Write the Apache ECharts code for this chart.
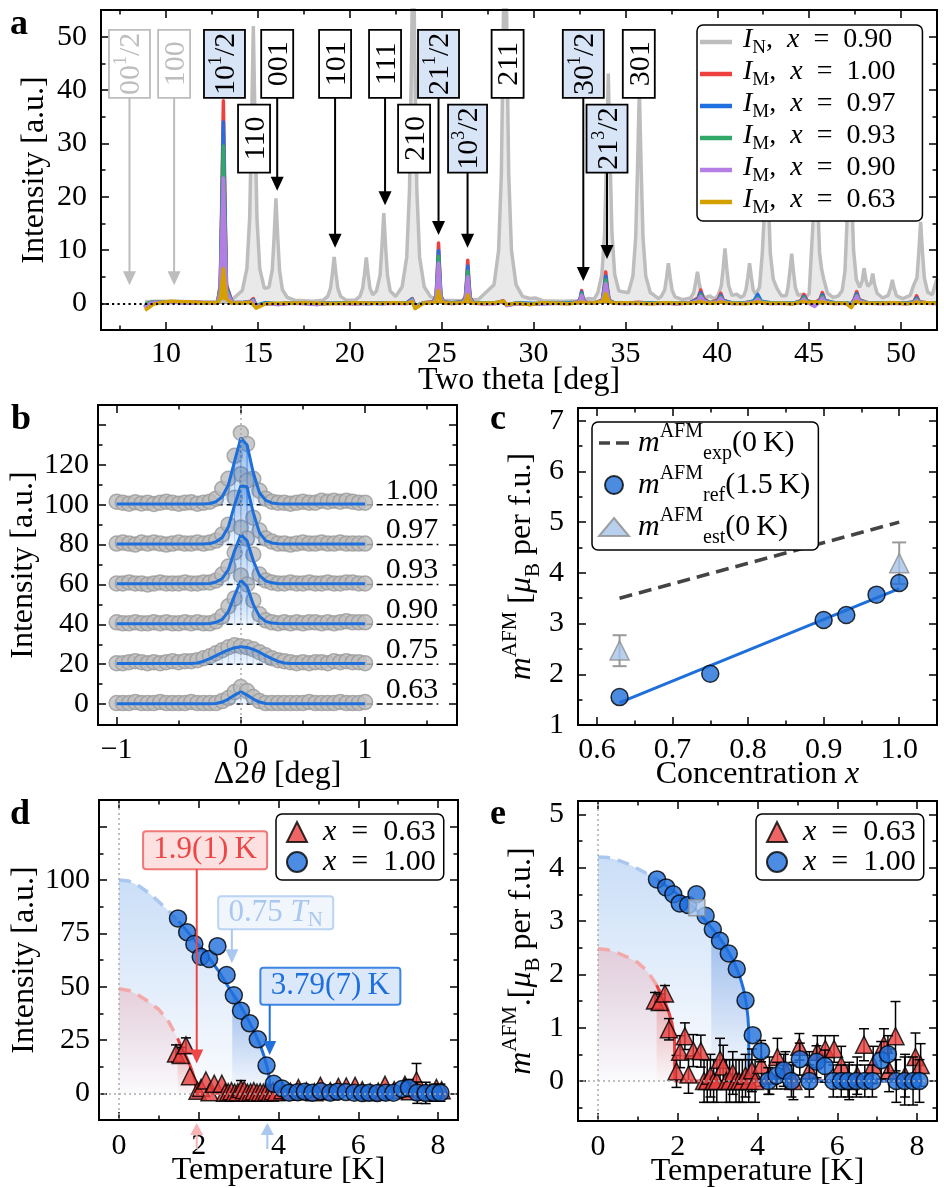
<!DOCTYPE html>
<html>
<head>
<meta charset="utf-8">
<script src="https://cdn.jsdelivr.net/npm/echarts@6/dist/echarts.min.js"></script>
<style>
html,body{margin:0;padding:0;background:#ffffff;}
#chart{width:944px;height:1188px;}
</style>
</head>
<body>
<div id="chart"></div>
<script>
const FF = "'Liberation Serif','DejaVu Serif',serif";

/* ================= panel a : powder patterns ================= */
const aNuclear = [[8.86,0.3],[9.5,0.4],[10.5,0.4],[11.5,0.3],[12.5,0.3],[13.5,0.4],[14.15,2.4],[14.4,6.5],[14.55,15.9],[14.65,32.5],[14.75,52],[14.85,32.5],[14.95,15.9],[15.1,6.5],[15.35,2.8],[15.6,3.0],[15.78,6.3],[15.88,12.3],[15.98,19.7],[16.08,12.3],[16.18,6.1],[16.33,2.6],[16.6,1.1],[17.0,0.6],[18.0,0.4],[18.55,0.6],[18.8,1.3],[18.95,2.8],[19.05,5.5],[19.15,8.7],[19.25,5.5],[19.35,2.8],[19.5,1.3],[19.8,0.6],[20.3,0.6],[20.55,1.3],[20.7,2.8],[20.8,5.4],[20.9,8.6],[21.0,5.4],[21.1,2.8],[21.25,1.6],[21.45,2.3],[21.65,5.3],[21.75,10.6],[21.85,16.9],[21.95,10.6],[22.05,5.3],[22.2,2.3],[22.5,1.3],[22.85,3.1],[23.1,8.7],[23.25,21.3],[23.35,43.7],[23.45,70],[23.55,43.7],[23.65,21.3],[23.8,8.7],[24.05,3.1],[24.4,1.2],[25.0,0.6],[26.0,0.5],[27.0,0.7],[27.85,3.5],[28.1,9.9],[28.25,24.3],[28.35,49.9],[28.45,80],[28.55,49.9],[28.65,24.3],[28.8,9.9],[29.05,3.5],[29.4,1.3],[29.8,0.9],[30.1,1.0],[30.5,0.5],[31.5,0.4],[32.5,0.5],[33.0,0.9],[33.3,0.8],[33.5,2.0],[33.72,5.4],[33.87,13.1],[33.97,26.8],[34.07,43.1],[34.17,26.8],[34.27,13.1],[34.42,5.4],[34.65,2.3],[35.16,2.0],[35.41,5.1],[35.56,12.3],[35.66,25.1],[35.76,40.3],[35.86,25.1],[35.96,12.3],[36.11,5.1],[36.36,2.0],[36.5,1.7],[36.8,0.9],[36.95,1.3],[37.14,2.5],[37.24,4.8],[37.34,7.5],[37.44,4.8],[37.54,2.5],[37.7,1.2],[38.1,0.7],[38.55,1.0],[38.72,2.0],[38.82,3.8],[38.92,5.9],[39.02,3.8],[39.12,2.0],[39.3,1.0],[39.6,1.4],[39.85,0.8],[40.05,1.5],[40.22,3.3],[40.32,6.5],[40.42,10.3],[40.52,6.5],[40.62,3.3],[40.8,1.5],[41.06,1.7],[41.3,1.1],[41.45,1.5],[41.56,2.5],[41.66,4.8],[41.76,7.5],[41.86,4.8],[41.96,2.5],[42.1,1.7],[42.3,3.0],[42.45,9.3],[42.59,18.9],[42.69,30.3],[42.79,18.9],[42.89,9.3],[43.05,4.5],[43.25,2.8],[43.5,1.4],[43.75,1.4],[43.85,3.0],[43.95,5.9],[44.05,9.3],[44.15,5.9],[44.25,3.0],[44.4,1.5],[44.6,1.7],[44.8,1.1],[45.0,1.8],[45.12,9.3],[45.27,18.9],[45.37,30.3],[45.47,18.9],[45.57,9.5],[45.68,6.4],[45.8,4.5],[46.0,1.9],[46.3,1.1],[46.6,1.4],[46.8,2.4],[46.95,6.0],[47.12,20.1],[47.22,32.3],[47.32,20.1],[47.42,9.9],[47.57,4.5],[47.75,3.0],[47.89,4.2],[47.99,6.6],[48.09,4.4],[48.2,3.2],[48.36,3.8],[48.46,5.6],[48.56,3.6],[48.7,1.9],[49.0,1.0],[49.3,1.5],[49.43,2.8],[49.53,4.4],[49.63,2.8],[49.76,1.4],[50.1,0.9],[50.5,1.5],[50.7,3.5],[50.87,4.8],[50.97,9.6],[51.07,15.3],[51.17,9.6],[51.27,4.8],[51.45,2.1],[51.7,1.6],[51.96,4.6]];

const aMX = [8.86,8.95,9.3,9.8,10.3,10.8,11.3,11.8,12.3,12.8,
  12.95,13.04,13.12,13.2,13.29,13.6,14.2,14.6,14.75,14.9,
  15.4,16.1,16.8,17.5,18.2,18.9,19.6,20.3,21.0,21.7,
  22.4,23.1,23.4,23.55,24.0,24.55,24.7,24.77,24.83,24.89,
  24.96,25.1,25.6,26.15,26.29,26.36,26.42,26.48,26.55,26.7,
  27.2,27.9,28.35,28.55,29.1,29.8,30.5,31.2,31.9,32.4,
  32.53,32.62,32.71,32.85,33.3,33.74,33.84,33.93,34.02,34.12,
  34.4,35.0,35.7,36.4,37.1,37.8,38.5,38.95,39.1,39.25,
  39.6,40.05,40.19,40.33,40.8,41.5,42.0,42.2,42.4,42.9,
  43.5,44.1,44.55,44.72,44.89,45.3,45.58,45.72,45.86,46.4,
  47.0,47.3,47.45,47.59,47.73,48.2,48.9,49.6,50.3,50.7,
  50.85,51.0,51.4,51.96];
const aMRed = [-0.8,-0.2,0.3,0.1,0.3,0.2,0.1,0.2,0.0,0.1,
  3.5,20.5,38.0,20.5,3.5,0.2,0.1,0.4,0.9,-0.5,
  0.0,-0.2,0.1,0.0,-0.1,0.1,0.0,-0.1,0.1,0.0,
  0.1,0.0,0.9,-0.6,0.1,0.3,1.5,6.5,11.3,6.5,
  1.5,0.3,0.0,0.4,1.2,4.5,8.1,4.5,1.2,0.2,
  -0.1,0.0,0.5,-0.4,0.0,-0.2,0.0,0.1,0.0,0.2,
  0.8,2.4,0.8,0.2,0.1,0.6,3.0,5.9,3.0,0.6,
  0.1,0.0,0.2,0.0,0.1,-0.1,0.1,1.0,2.5,0.9,
  0.1,0.7,1.9,0.6,0.0,0.1,0.4,1.3,0.3,0.0,
  0.1,-0.1,0.5,1.7,0.5,0.1,0.7,2.0,0.6,0.0,
  0.1,-0.2,0.8,2.2,0.7,0.1,0.0,0.1,0.0,0.3,
  1.4,0.3,0.1,0.0];
const aMBlue = [-0.7,-0.1,0.2,0.2,0.3,0.1,0.2,0.1,0.1,0.0,
  3.1,18.5,34.0,18.5,3.1,0.1,0.2,0.3,0.7,-0.4,
  0.1,-0.1,0.0,0.1,-0.2,0.0,0.1,0.0,-0.1,0.1,
  0.0,0.1,0.8,-0.5,0.0,0.2,1.3,5.7,9.9,5.7,
  1.3,0.2,0.1,0.3,1.0,3.9,7.0,3.9,1.0,0.1,
  0.0,0.1,0.4,-0.3,0.1,0.0,-0.1,0.0,0.1,0.2,
  0.7,2.1,0.7,0.1,0.0,0.5,2.6,5.1,2.6,0.5,
  0.0,0.1,0.1,0.1,0.0,0.0,0.1,0.8,2.0,0.7,
  0.0,0.5,1.5,0.5,0.1,0.0,0.5,1.7,0.4,0.1,
  0.0,0.0,0.4,1.3,0.4,0.0,0.5,1.6,0.5,0.1,
  0.0,-0.1,0.6,1.8,0.6,0.0,0.1,0.0,0.1,0.2,
  1.0,0.2,0.0,0.1];
const aMGreen = [-0.6,0.0,0.3,0.1,0.2,0.2,0.1,0.1,0.0,0.1,
  2.7,16.0,29.5,16.0,2.7,0.1,0.1,0.2,0.6,-0.4,
  0.0,-0.1,0.1,0.0,-0.1,0.1,0.0,0.0,0.1,-0.1,
  0.1,0.0,0.7,-0.5,0.1,0.2,1.2,5.0,8.8,5.0,
  1.2,0.2,0.0,0.3,0.9,3.3,6.0,3.3,0.9,0.1,
  0.1,0.0,0.3,-0.3,0.0,-0.1,0.0,0.1,0.0,0.1,
  0.6,1.8,0.6,0.1,0.1,0.4,2.3,4.4,2.3,0.4,
  0.1,0.0,0.1,0.0,0.1,0.0,0.0,0.6,1.6,0.6,
  0.1,0.4,1.2,0.4,0.0,0.1,0.3,1.0,0.3,0.0,
  0.1,0.0,0.3,1.1,0.3,0.1,0.4,1.3,0.4,0.0,
  0.1,-0.1,0.5,1.5,0.5,0.1,0.0,0.1,0.0,0.2,
  0.8,0.2,0.1,0.0];
const aMPurple = [-0.9,-0.3,0.2,0.1,0.2,0.1,0.0,0.1,0.0,0.0,
  2.2,12.8,23.5,12.8,2.2,0.0,0.1,0.2,0.5,-0.5,
  -0.1,-0.2,0.0,-0.1,-0.2,0.0,-0.1,-0.1,0.0,-0.1,
  0.0,-0.1,0.6,-0.6,0.0,0.1,1.0,4.2,7.5,4.2,
  1.0,0.1,-0.1,0.2,0.7,2.8,5.0,2.8,0.7,0.0,
  -0.1,-0.1,0.3,-0.4,-0.1,-0.2,-0.1,0.0,-0.1,0.1,
  0.5,1.5,0.5,0.0,0.0,0.3,1.9,3.7,1.9,0.3,
  0.0,-0.1,0.0,-0.1,0.0,-0.1,0.0,0.5,1.3,0.5,
  0.0,0.3,1.0,0.3,-0.1,0.0,0.2,0.8,0.2,-0.1,
  0.0,-0.1,0.2,0.8,0.2,-0.6,0.3,1.0,0.3,-0.1,
  0.0,-0.3,0.4,1.3,0.4,0.0,-0.1,0.0,-0.1,0.1,
  0.6,0.1,0.0,-0.1];
const aMGold = [-1.3,-1.0,-0.2,0.2,0.4,0.3,0.3,0.1,0.1,0.1,
  0.8,3.6,6.5,3.6,0.8,0.0,0.1,0.2,-0.3,-0.9,
  -0.1,0.0,0.0,0.1,0.0,-0.1,0.0,0.1,0.0,0.0,
  0.1,0.0,0.3,-1.0,0.0,0.1,0.4,1.4,2.4,1.4,
  0.4,0.1,0.0,0.1,0.3,0.9,1.6,0.9,0.3,0.0,
  0.0,0.1,0.4,-0.2,0.0,-0.2,0.1,0.0,-0.1,0.1,
  0.2,0.5,0.2,0.0,0.1,0.3,1.0,1.8,1.0,0.3,
  0.0,0.1,0.0,-0.1,0.1,0.0,0.0,0.2,0.4,0.1,
  0.0,0.1,0.3,0.1,0.0,-0.1,0.1,0.3,0.1,0.0,
  0.0,-0.1,0.2,0.4,0.1,0.3,0.1,0.3,0.1,0.0,
  0.0,-0.8,0.1,0.4,0.1,0.0,0.0,0.1,-0.1,0.0,
  0.3,0.0,0.1,0.0];
const aSeriesNames = ['IN090','IM100','IM097','IM093','IM090','IM063'];
const aLegendSub = ['N','M','M','M','M','M'];
const aLegendConc = ['0.90','1.00','0.97','0.93','0.90','0.63'];
const aColors = ['#bdbdbd','#ef4040','#2070e0','#30a868','#b57ee5','#d4a000'];
const aXTicks = [10,15,20,25,30,35,40,45,50];
const aXMinor = [7.5,12.5,17.5,22.5,27.5,32.5,37.5,42.5,47.5];
const aYTicks = [0,10,20,30,40,50];
const aYMinor = [5,15,25,35,45];
const aPeakLabels = [
  {t:'{n|00}{s|1}{n|/2}', x:8.01,  row:0, w:41, kind:'gray', tip:3.4},
  {t:'{n|100}',           x:10.44, row:0, w:32, kind:'gray', tip:3.4},
  {t:'{n|10}{s|1}{n|/2}', x:13.18, row:0, w:41, kind:'blue'},
  {t:'{n|110}',           x:14.79, row:1, w:32, kind:'white'},
  {t:'{n|001}',           x:16.05, row:0, w:32, kind:'white', tip:21.1},
  {t:'{n|101}',           x:19.2,  row:0, w:32, kind:'white', tip:10.4},
  {t:'{n|111}',           x:21.92, row:0, w:32, kind:'white', tip:18.4},
  {t:'{n|210}',           x:23.5,  row:1, w:32, kind:'white'},
  {t:'{n|21}{s|1}{n|/2}', x:24.83, row:0, w:41, kind:'blue', tip:12.8},
  {t:'{n|10}{s|3}{n|/2}', x:26.41, row:1, w:39, kind:'blue', tip:10.4},
  {t:'{n|211}',           x:28.59, row:0, w:32, kind:'white'},
  {t:'{n|30}{s|1}{n|/2}', x:32.71, row:0, w:41, kind:'blue', tip:4.2},
  {t:'{n|21}{s|3}{n|/2}', x:34.0,  row:1, w:41, kind:'blue', tip:8.3},
  {t:'{n|301}',           x:35.73, row:0, w:32, kind:'white'}
];
const aRowY = [44.9, 30.9];

/* ================= panel b : peak profiles ================= */
const bX = [-1,-0.95,-0.9,-0.85,-0.8,-0.75,-0.7,-0.65,-0.6,-0.55,-0.5,-0.45,-0.4,-0.35,-0.3,-0.25,-0.2,-0.15,-0.1,-0.05,0,0.05,0.1,0.15,0.2,0.25,0.3,0.35,0.4,0.45,0.5,0.55,0.6,0.65,0.7,0.75,0.8,0.85,0.9,0.95,1];
const bOffsets = [100,80,60,40,20,0];
const bLabels = ['1.00','0.97','0.93','0.90','0.75','0.63'];
const bPts = [
 [1.5,1.0,0.5,1.2,0.6,1.0,0.4,1.0,1.5,1.0, 0.5,1.0,1.2,0.5,1.0,1.5,3.0,8.0,13.0,24.5, 36.0,30.5,13.0,7.0,3.0,1.5,1.0,1.0,0.5,1.0, 1.5,1.0,1.0,2.0,1.5,2.0,1.5,2.0,1.5,1.0,1.0],
 [0.5,1.0,0.5,0.0,1.0,0.5,1.0,0.5,0.0,0.5, 1.0,0.5,0.5,1.0,0.5,1.0,2.0,5.0,10.0,23.5, 35.3,32.0,13.5,7.0,3.0,1.5,0.5,0.5,0.0,0.5, 1.0,0.5,0.5,1.0,0.5,0.5,1.0,0.5,0.5,0.5,0.5],
 [0.5,0.5,1.0,0.5,0.5,0.0,0.5,1.0,0.5,0.5, 0.5,1.0,0.5,0.5,1.0,1.0,2.0,5.0,9.0,16.0, 28.5,23.0,15.0,5.0,2.0,1.0,0.5,0.5,1.0,0.5, 0.5,1.0,0.5,0.5,1.0,0.5,0.5,1.0,1.0,0.5,0.5],
 [1.0,0.5,0.5,1.0,0.5,0.5,1.0,0.5,1.0,0.5, 0.5,1.0,0.5,1.0,0.5,0.5,1.5,4.0,9.0,13.0, 24.5,20.0,12.0,5.0,2.0,1.0,0.5,1.0,0.5,1.0, 0.5,1.0,1.0,0.5,1.0,0.5,1.0,1.5,1.0,1.0,1.0],
 [0.5,0.5,1.0,1.5,1.0,0.5,1.0,0.5,1.0,1.5, 1.0,1.5,1.5,2.0,3.0,4.0,5.5,7.0,8.5,9.5, 9.0,8.5,7.5,6.0,4.5,3.0,2.0,1.5,1.0,0.5, 1.0,0.5,1.0,1.0,0.5,1.5,1.0,1.5,1.0,1.0,0.5],
 [0.5,0.5,0.5,1.0,0.5,0.5,0.5,1.0,0.5,0.5, 0.5,0.5,1.0,0.5,0.5,0.5,0.5,1.5,3.0,6.0, 8.5,6.5,3.5,1.5,0.5,0.5,0.5,0.5,0.5,0.5, 0.5,1.0,0.5,0.5,0.5,0.5,1.0,0.5,0.5,0.5,1.0]
];
const bFit = [
 [0.3,0.3,0.3,0.3,0.3,0.3,0.3,0.3,0.3,0.3, 0.3,0.3,0.3,0.3,0.3,0.6,1.5,4,10,22, 33.5,30,16,6,2.2,0.9,0.5,0.3,0.3,0.3, 0.3,0.3,0.3,0.3,0.3,0.3,0.3,0.3,0.3,0.3,0.3],
 [0.3,0.3,0.3,0.3,0.3,0.3,0.3,0.3,0.3,0.3, 0.3,0.3,0.3,0.3,0.3,0.5,1.4,3.5,9,20, 29.5,29,16,6,2,0.8,0.4,0.3,0.3,0.3, 0.3,0.3,0.3,0.3,0.3,0.3,0.3,0.3,0.3,0.3,0.3],
 [0.3,0.3,0.3,0.3,0.3,0.3,0.3,0.3,0.3,0.3, 0.3,0.3,0.3,0.3,0.3,0.5,1.2,3,7.5,17, 25,22,12,4.5,1.8,0.8,0.4,0.3,0.3,0.3, 0.3,0.3,0.3,0.3,0.3,0.3,0.3,0.3,0.3,0.3,0.3],
 [0.3,0.3,0.3,0.3,0.3,0.3,0.3,0.3,0.3,0.3, 0.3,0.3,0.3,0.3,0.3,0.4,1,2.5,6.5,14.5, 22,19,10,4,1.5,0.6,0.4,0.3,0.3,0.3, 0.3,0.3,0.3,0.3,0.3,0.3,0.3,0.3,0.3,0.3,0.3],
 [0.3,0.3,0.3,0.3,0.3,0.3,0.3,0.3,0.3,0.3, 0.3,0.3,0.3,0.6,1.5,2.8,4.3,5.8,7.2,8.3, 8.7,8.4,7.4,6,4.3,2.8,1.4,0.6,0.3,0.3, 0.3,0.3,0.3,0.3,0.3,0.3,0.3,0.3,0.3,0.3,0.3],
 [0.2,0.2,0.2,0.2,0.2,0.2,0.2,0.2,0.2,0.2, 0.2,0.2,0.2,0.2,0.2,0.2,0.3,1,2.5,4.5, 6.2,4.5,2.5,1,0.3,0.2,0.2,0.2,0.2,0.2, 0.2,0.2,0.2,0.2,0.2,0.2,0.2,0.2,0.2,0.2,0.2]
];
const bXTicks = [-1,0,1];
const bXMinor = [-0.5,0.5,1.5];
const bYTicks = [0,20,40,60,80,100,120,140];
const bYLabels = [0,20,40,60,80,100,120];
const bYMinor = [10,30,50,70,90,110,130];
const bLabelX = 1.59;

/* ================= panel c : moment vs concentration ================= */
const cX = [0.63,0.75,0.90,0.93,0.97,1.00];
const cRef = [1.55,2.01,3.07,3.17,3.57,3.80];
const cEstX = [0.63,1.00];
const cEst = [2.47,4.19];
const cEstLo = [2.16,3.78];
const cEstHi = [2.77,4.60];
const cExpX = [0.63,1.00];
const cExp = [3.5,5.0];
const cFitX = [0.63,1.00];
const cFit = [1.44,3.69];
const cXTicks = [0.6,0.7,0.8,0.9,1.0];
const cXMinor = [0.65,0.75,0.85,0.95];
const cYTicks = [1,2,3,4,5,6,7];
const cYMinor = [1.5,2.5,3.5,4.5,5.5,6.5];

/* ================= panels d, e : temperature dependence ================= */
const tB = [1.48,1.71,1.89,2.05,2.26,2.47,2.7,2.88,3.06,3.28,3.48,3.7,3.88,4.09,4.27,4.48,4.66,4.85,5.06,5.3,5.48,5.69,5.9,6.1,6.27,6.48,6.69,6.88,7.1,7.27,7.48,7.69,7.9,8.06];
const dB = [82,75.5,70,64,63,69,55.5,46,38.7,32.8,25.3,13,4.5,2.3,0.3,0.5,0.8,0.3,1.0,0.3,0.8,0.6,0.3,0.2,0.3,0.2,0.3,0.3,2.0,2.5,0.3,0.2,0.3,0.3];
const dBErr = [1.5,1.5,1.5,1.5,1.5,1.5,1.5,1.5,1.5,1.5,1.5,1.5,2,2,2.5,2.5,3,3,3,3,3,3,3,3,3,3,3,3,3,4,5,5,4,4];
const eB = [3.78,3.63,3.5,3.33,3.3,3.5,3.1,2.84,2.63,2.39,2.1,1.51,0.86,0.56,0,0.1,0.2,0,0.41,0,0.36,0.28,0,0,0,0,0,0,0.39,0.5,0,0,0,0];
const eBErr = [0.05,0.05,0.05,0.05,0.05,0.05,0.05,0.05,0.05,0.06,0.08,0.1,0.15,0.2,0.25,0.25,0.3,0.3,0.3,0.3,0.3,0.3,0.3,0.3,0.3,0.3,0.3,0.3,0.35,0.35,0.4,0.45,0.45,0.4];
const tR = [1.43,1.55,1.68,1.78,1.97,2.06,2.18,2.27,2.39,2.58,
  2.66,2.74,2.82,2.9,2.98,3.06,3.14,3.22,3.3,3.38,
  3.46,3.54,3.62,3.7,3.78,3.86,3.94,4.1,4.3,4.5,
  4.7,4.9,5.05,5.3,5.5,5.7,5.92,6.1,6.3,6.5,
  6.67,6.9,7.17,7.3,7.46,7.7,7.96,8.09];
const dR = [18.7,18.0,22.5,8.0,1.2,2.5,6.0,0.5,4.5,4.5,
  0.3,0.5,1.0,0.3,0.5,2.0,1.5,0.3,0.5,1.0,
  0.3,0.5,0.3,0.8,0.3,1.0,0.5,1.5,0.8,2.5,
  1.0,0.5,3.5,1.0,3.0,3.2,3.5,1.5,0.5,0.8,
  4.0,1.5,4.0,1.0,6.0,0.8,2.5,1.5];
const dRErr = [4,3.5,3.5,3,3,3,3,3,3,3, 3,3,3,3,3,4,3,3,3,3, 3,3,3,3,3,3,3,3,3,3, 3,3,3,3,3,3,3,3,3,3, 3,3,3,3,8,3,3,3];
const eR = [1.51,1.48,1.64,0.97,0.18,0.55,0.84,0.12,0.57,0.56,
  0,0,0.1,0,0,0.4,0.27,0,0,0.15,
  0,0,0,0.1,0,0.2,0,0.3,0.1,0.45,
  0.2,0,0.64,0.2,0.55,0.6,0.6,0.3,0,0.1,
  0.68,0.3,0.68,0.2,0.84,0.1,0.45,0.3];
const eRErr = [0.15,0.15,0.15,0.2,0.3,0.3,0.25,0.35,0.3,0.3, 0.4,0.4,0.4,0.4,0.4,0.4,0.4,0.4,0.4,0.4, 0.4,0.4,0.4,0.4,0.4,0.4,0.4,0.4,0.35,0.35, 0.35,0.35,0.25,0.35,0.3,0.25,0.25,0.35,0.35,0.35, 0.3,0.35,0.3,0.4,0.65,0.4,0.45,0.4];
const eRefT = [2.48];
const eRef = [3.25];
const fitTB = [0,0.25,0.5,0.75,1.0,1.25,1.5,1.75,2.0,2.25,2.5,2.75,2.84,3.0,3.2,3.4,3.55,3.65,3.72,3.76,3.78,3.785];
const dFitB = [100,99.5,97.2,93.9,89.8,85.3,80.6,75.1,69.4,63.6,57.3,49.7,47.0,42.6,36.0,28.7,22.2,16.8,11.9,8.2,5.1,0];
const eFitB = [4.2,4.19,4.14,4.07,3.98,3.88,3.77,3.64,3.5,3.35,3.18,2.96,2.88,2.74,2.52,2.25,1.98,1.72,1.45,1.2,0.95,0];
const fitTR = [0,0.25,0.5,0.75,1.0,1.25,1.47,1.6,1.7,1.78,1.85,1.9,1.92,1.925];
const dFitR = [49,48.2,45.9,42.9,39.3,33.5,25.8,20.4,16.7,13.1,9.6,6.5,5.1,0];
const eFitR = [2.48,2.46,2.4,2.32,2.22,2.05,1.8,1.6,1.45,1.28,1.1,0.9,0.8,0];
const fitEndT = 8.1;
const cutB = 2.84, cutR = 1.47, dashEndB = 1.5, dashEndR = 1.47;
const tXTicks = [0,2,4,6,8];
const tXMinor = [1,3,5,7];
const dYTicks = [0,25,50,75,100,125];
const dYLabels = [0,25,50,75,100];
const dYMinor = [12.5,37.5,62.5,87.5,112.5];
const eYTicks = [0,1,2,3,4,5];
const eYMinor = [-0.5,0.5,1.5,2.5,3.5,4.5];
const dNotes = [
  {t:'{n|1.9(1)\u2009K}', x:2.16, y:114, w:124, h:38, tx:'#ee4646', bd:'#f07878', bg:'#fde0e0', ax:1.95, tip:14},
  {t:'{n|0.75 }{i|T}{sub|N}', x:3.93, y:84.7, w:115, h:33, tx:'#a9c7ef', bd:'#bcd4f3', bg:'#f1f6fd', ax:2.83, tip:61},
  {t:'{n|3.79(7)\u2009K}', x:5.3, y:50.2, w:140, h:37, tx:'#1f6fdc', bd:'#3f84e2', bg:'#dbe8f9', ax:3.78, tip:18}
];
const dAxisMarks = [{x:1.95, c:'#f6b4b4'}, {x:3.72, c:'#a9c7ef'}];

/* ================= build ================= */
const xAxes = [], yAxes = [];
const TICK = {color:'#000', width:1.5};
const NAMESTYLE = {fontFamily:FF, fontSize:32, color:'#000'};
function buildAxes(gi, dim, min, max, major, minor, labels, fmt, margin, nameCfg) {
  const list = dim === 'x' ? xAxes : yAxes;
  const pos = dim === 'x' ? ['bottom','top'] : ['left','right'];
  const idx = list.length;
  const mk = (p, ticks, len, withLabel) => {
    const ax = {type:'value', gridIndex:gi, position:p, min:min, max:max, silent:true,
      splitLine:{show:false}, axisLine:{show:false, onZero:false},
      axisTick:{show:true, inside:true, length:len, lineStyle:TICK, customValues:ticks},
      axisLabel:{show:false}, nameMoveOverlap:false};
    if (withLabel) {
      ax.axisLabel = {show:true, customValues:labels, margin:margin, fontFamily:FF, fontSize:30, color:'#000'};
      if (fmt) ax.axisLabel.formatter = fmt;
      Object.assign(ax, nameCfg);
    }
    return ax;
  };
  list.push(mk(pos[0], major, 8, true));
  list.push(mk(pos[0], minor, 4.5, false));
  list.push(mk(pos[1], major, 8, false));
  list.push(mk(pos[1], minor, 4.5, false));
  return idx;
}
const richName = {
  n:{fontFamily:FF, fontSize:32, color:'#000', lineHeight:44, verticalAlign:'middle'},
  i:{fontFamily:FF, fontSize:32, color:'#000', fontStyle:'italic', lineHeight:44, verticalAlign:'middle'},
  sup:{fontFamily:FF, fontSize:21, color:'#000', lineHeight:21, verticalAlign:'top'},
  sub:{fontFamily:FF, fontSize:21, color:'#000', lineHeight:21, verticalAlign:'bottom'}
};
const minusFmt = v => v < 0 ? '\u2212' + (-v) : String(v);

const aXi = buildAxes(0,'x',6.46,51.96,aXTicks,aXMinor,aXTicks,null,9,{name:'Two theta [deg]',nameLocation:'middle',nameGap:35,nameTextStyle:NAMESTYLE});
const aYi = buildAxes(0,'y',-5,55,aYTicks,aYMinor,aYTicks,null,14,{name:'Intensity [a.u.]',nameLocation:'middle',nameGap:50,nameTextStyle:NAMESTYLE});
const bXi = buildAxes(1,'x',-1.15,1.74,bXTicks,bXMinor,bXTicks,minusFmt,10,{name:'{n|\u03942}{i|\u03b8}{n| [deg]}',nameLocation:'middle',nameGap:28,nameTextStyle:Object.assign({rich:richName},NAMESTYLE)});
const bYi = buildAxes(1,'y',-10.5,150,bYTicks,bYMinor,bYLabels,null,9,{name:'Intensity [a.u.]',nameLocation:'middle',nameGap:58,nameTextStyle:NAMESTYLE});
const cXi = buildAxes(2,'x',0.575,1.05,cXTicks,cXMinor,cXTicks,v=>v.toFixed(1),10,{name:'{n|Concentration }{i|x}',nameLocation:'middle',nameGap:28,nameTextStyle:Object.assign({rich:richName},NAMESTYLE)});
const cYi = buildAxes(2,'y',1,7.25,cYTicks,cYMinor,cYTicks,null,14,{name:'{i|m}{sup|AFM}{n| [}{i|\u03bc}{sub|B}{n| per f.u.]}',nameLocation:'middle',nameGap:34,nameTextStyle:Object.assign({rich:richName},NAMESTYLE)});
const dXi = buildAxes(3,'x',-0.5,8.5,tXTicks,tXMinor,tXTicks,null,11,{name:'Temperature [K]',nameLocation:'middle',nameGap:35,nameTextStyle:NAMESTYLE});
const dYi = buildAxes(3,'y',-12.5,137.5,dYTicks,dYMinor,dYLabels,null,9,{name:'Intensity [a.u.]',nameLocation:'middle',nameGap:58,nameTextStyle:NAMESTYLE});
const eXi = buildAxes(4,'x',-0.5,8.5,tXTicks,tXMinor,tXTicks,null,11,{name:'Temperature [K]',nameLocation:'middle',nameGap:35,nameTextStyle:NAMESTYLE});
const eYi = buildAxes(4,'y',-0.75,5.25,eYTicks,eYMinor,eYTicks,null,14,{name:'{i|m}{sup|AFM}{n|.[}{i|\u03bc}{sub|B}{n| per f.u.]}',nameLocation:'middle',nameGap:34,nameTextStyle:Object.assign({rich:richName},NAMESTYLE)});

const zip = (xs, ys, off) => xs.map((x,i) => [x, ys[i] + (off || 0)]);
const grad = (c0, c1) => new echarts.graphic.LinearGradient(0,0,0,1,[{offset:0,color:c0},{offset:1,color:c1}]);
const series = [];
const DOTTED = {color:'#aaaaaa', width:1.5, type:[2,3]};
// error bars; bars shorter than the marker radius stay hidden beneath it
function errSeries(xi, yi, pts, color, lw, cap, z, hideR) {
  return {type:'custom', xAxisIndex:xi, yAxisIndex:yi, data:pts, z:z, silent:true, encode:{x:0, y:[1,2]},
    renderItem:(params, api) => {
      const x = api.value(0), lo = api.value(1), hi = api.value(2);
      const a = api.coord([x, lo]), b = api.coord([x, hi]);
      if (Math.abs(a[1] - b[1]) / 2 < (hideR || 0)) return {type:'group', children:[]};
      const st = {stroke:color, lineWidth:lw};
      return {type:'group', children:[
        {type:'line', shape:{x1:a[0],y1:a[1],x2:b[0],y2:b[1]}, style:st},
        {type:'line', shape:{x1:a[0]-cap,y1:a[1],x2:a[0]+cap,y2:a[1]}, style:st},
        {type:'line', shape:{x1:b[0]-cap,y1:b[1],x2:b[0]+cap,y2:b[1]}, style:st}]};
    }};
}
function bandSeries(xi, yi, xs, ys, off) {
  const pts = [];
  for (let i = 0; i < xs.length - 1; i++) {
    if (ys[i] > 0.35 || ys[i+1] > 0.35) pts.push([xs[i], ys[i] + off, xs[i+1], ys[i+1] + off, off]);
  }
  return {type:'custom', xAxisIndex:xi, yAxisIndex:yi, data:pts, z:3, silent:true, encode:{x:[0,2], y:[1,3]},
    renderItem:(params, api) => {
      const a = api.coord([api.value(0), api.value(1)]);
      const b = api.coord([api.value(2), api.value(3)]);
      const b0 = api.coord([api.value(2), api.value(4)]);
      const a0 = api.coord([api.value(0), api.value(4)]);
      const g = new echarts.graphic.LinearGradient(0, a0[1]-70, 0, a0[1],
        [{offset:0,color:'rgba(30,111,217,0.55)'},{offset:1,color:'rgba(30,111,217,0.08)'}], true);
      return {type:'polygon', shape:{points:[a,b,b0,a0]}, style:{fill:g, stroke:g, lineWidth:0.6}};
    }};
}

/* ---- a ---- */
series.push({type:'line', name:aSeriesNames[0], xAxisIndex:aXi, yAxisIndex:aYi, data:aNuclear, symbol:'none', silent:true, z:2,
  lineStyle:{color:aColors[0], width:3.5}, itemStyle:{color:aColors[0]}, areaStyle:{color:'#e9e9e9', opacity:1}});
[aMRed, aMBlue, aMGreen, aMPurple, aMGold].forEach((arr, k) => {
  series.push({type:'line', name:aSeriesNames[k+1], xAxisIndex:aXi, yAxisIndex:aYi, data:zip(aMX, arr), symbol:'none', silent:true, z:2,
    lineStyle:{color:aColors[k+1], width:3.5, join:'round'}, itemStyle:{color:aColors[k+1]}, areaStyle:{color:aColors[k+1], opacity:1}});
});
const siA = series.length - 1;
series[siA].markLine = {silent:true, symbol:'none', label:{show:false}, data:[{yAxis:0}], lineStyle:{color:'#000', width:2.2, type:[2.2,3.3]}};

/* ---- b ---- */
const siB = series.length;
bOffsets.forEach((off, k) => {
  const s = {type:'line', xAxisIndex:bXi, yAxisIndex:bYi, silent:true, symbol:'none', z:1,
    data:[[bX[0], off],[bLabelX, off]], lineStyle:{color:'#000', width:1.6, type:[6,4]}};
  if (k === 0) s.markLine = {silent:true, symbol:'none', label:{show:false}, data:[{xAxis:0}], lineStyle:DOTTED};
  series.push(s);
});
bOffsets.forEach((off, k) => {
  series.push({type:'scatter', xAxisIndex:bXi, yAxisIndex:bYi, silent:true, z:2, data:zip(bX, bPts[k], off),
    symbolSize:15, itemStyle:{color:'#bdbdbd', borderColor:'#9a9a9a', borderWidth:1.5}});
});
bOffsets.forEach((off, k) => {
  series.push(bandSeries(bXi, bYi, bX, bFit[k], off));
  series.push({type:'line', xAxisIndex:bXi, yAxisIndex:bYi, silent:true, z:4, symbol:'none',
    data:zip(bX, bFit[k], off), lineStyle:{color:'#1e6fd9', width:3}});
});

/* ---- c ---- */
series.push({type:'line', name:'mexp', xAxisIndex:cXi, yAxisIndex:cYi, silent:true, z:2, symbol:'none',
  data:zip(cExpX, cExp), lineStyle:{color:'#444444', width:3.5, type:[13,7]}, itemStyle:{color:'#444444'}});
series.push({type:'line', xAxisIndex:cXi, yAxisIndex:cYi, silent:true, z:2, symbol:'none',
  data:zip(cFitX, cFit), lineStyle:{color:'#1e6fd9', width:3}});
series.push(errSeries(cXi, cYi, cEstX.map((x,i)=>[x, cEstLo[i], cEstHi[i]]), '#999999', 2, 7, 3, 0));
series.push({type:'scatter', name:'mest', xAxisIndex:cXi, yAxisIndex:cYi, silent:true, z:3, symbol:'triangle', symbolSize:19,
  data:zip(cEstX, cEst), itemStyle:{color:'#a7c3ea', borderColor:'#8d8d8d', borderWidth:1.5}});
series.push({type:'scatter', name:'mref', xAxisIndex:cXi, yAxisIndex:cYi, silent:true, z:4, symbolSize:17,
  data:zip(cX, cRef), itemStyle:{color:'#1e6fd9', borderColor:'#000', borderWidth:1.5}});

/* ---- d, e ---- */
function areaSeries(xi, yi, pts, c0, c1, extra) {
  return Object.assign({type:'line', xAxisIndex:xi, yAxisIndex:yi, data:pts, symbol:'none', silent:true, z:1,
    lineStyle:{width:0, opacity:0}, areaStyle:{color:grad(c0, c1), opacity:1}}, extra || {});
}
function tempPanel(xi, yi, fitB, fitR, vB, errB, vR, errR, withRef) {
  const pB = zip(fitTB, fitB), pR = zip(fitTR, fitR);
  const first = series.length;
  series.push(areaSeries(xi, yi, pB.filter(p => p[0] <= cutB), 'rgba(150,190,240,0.5)', 'rgba(150,190,240,0.04)',
    {markLine:{silent:true, symbol:'none', label:{show:false}, data:[{xAxis:0},{yAxis:0}], lineStyle:DOTTED}}));
  series.push(areaSeries(xi, yi, pB.filter(p => p[0] >= cutB), 'rgba(70,130,220,0.55)', 'rgba(70,130,220,0.04)'));
  series.push(areaSeries(xi, yi, pR.filter(p => p[0] <= cutR), 'rgba(235,150,160,0.35)', 'rgba(235,150,160,0.02)'));
  series.push(areaSeries(xi, yi, pR.filter(p => p[0] >= cutR), 'rgba(235,90,90,0.5)', 'rgba(235,90,90,0.03)'));
  series.push({type:'line', xAxisIndex:xi, yAxisIndex:yi, silent:true, z:2, symbol:'none',
    data:pB.filter(p => p[0] <= dashEndB), lineStyle:{color:'#a9c7ef', width:3.5, type:[12,8]}});
  series.push({type:'line', xAxisIndex:xi, yAxisIndex:yi, silent:true, z:2, symbol:'none',
    data:pR.filter(p => p[0] <= dashEndR), lineStyle:{color:'#f4a9a9', width:3.5, type:[12,8]}});
  series.push({type:'line', xAxisIndex:xi, yAxisIndex:yi, silent:true, z:2, symbol:'none',
    data:pR.filter(p => p[0] >= dashEndR).concat([[fitEndT, 0]]), lineStyle:{color:'#e84040', width:3}});
  series.push({type:'line', xAxisIndex:xi, yAxisIndex:yi, silent:true, z:2, symbol:'none',
    data:pB.filter(p => p[0] >= dashEndB).concat([[fitEndT, 0]]), lineStyle:{color:'#1f6fdc', width:3}});
  series.push(errSeries(xi, yi, tR.map((t,i)=>[t, vR[i]-errR[i], vR[i]+errR[i]]), '#000', 1.5, 5, 2.5, 7));
  series.push({type:'scatter', name:'x063', xAxisIndex:xi, yAxisIndex:yi, silent:true, z:3, symbol:'triangle', symbolSize:17,
    data:zip(tR, vR), itemStyle:{color:'#e8403f', borderColor:'#000', borderWidth:1.5}});
  series.push(errSeries(xi, yi, tB.map((t,i)=>[t, vB[i]-errB[i], vB[i]+errB[i]]), '#000', 1.5, 5, 3.5, 8.5));
  series.push({type:'scatter', name:'x100', xAxisIndex:xi, yAxisIndex:yi, silent:true, z:4, symbolSize:17,
    data:zip(tB, vB), itemStyle:{color:'#1f6fdc', borderColor:'#000', borderWidth:1.5}});
  if (withRef) series.push({type:'scatter', xAxisIndex:xi, yAxisIndex:yi, silent:true, z:5, symbol:'rect', symbolSize:16,
    data:zip(eRefT, eRef), itemStyle:{color:'#a9c7ef', borderColor:'#8a8a8a', borderWidth:1.5}});
  return first;
}
const siD = tempPanel(dXi, dYi, dFitB, dFitR, dB, dBErr, dR, dRErr, false);
const siE = tempPanel(eXi, eYi, eFitB, eFitR, eB, eBErr, eR, eRErr, true);

/* ---- legends ---- */
const legendBase = {orient:'vertical', selectedMode:false, backgroundColor:'#ffffff', borderColor:'#000', borderWidth:1.5, borderRadius:6, z:10, itemGap:0};
const DASH_ICON = 'path://M0,0h0.05v0.05h-0.05z M0,17.95h0.05v0.05h-0.05z M0,7.2h11v3.6h-11z M17,7.2h13v3.6h-13z';
const legends = [
  Object.assign({}, legendBase, {left:697, top:25, padding:[1,27,3,3], itemWidth:32, itemHeight:4.5,
    data:aSeriesNames.map(n => ({name:n, icon:'rect', itemStyle:{borderWidth:0}})),
    formatter: name => { const k = aSeriesNames.indexOf(name); return '{i|I}{sub|' + aLegendSub[k] + '}{n|,\u2002}{i|x}{n|\u2002=\u2002' + aLegendConc[k] + '}'; },
    textStyle:{fontFamily:FF, fontSize:28, color:'#000', padding:[0,0,0,6], rich:{
      n:{fontFamily:FF, fontSize:28, color:'#000', lineHeight:28, verticalAlign:'top'},
      i:{fontFamily:FF, fontSize:28, color:'#000', fontStyle:'italic', lineHeight:28, verticalAlign:'top'},
      sub:{fontFamily:FF, fontSize:19, color:'#000', lineHeight:32, verticalAlign:'bottom'}}}}),
  Object.assign({}, legendBase, {left:592, top:422, padding:[0,8,2,6], itemWidth:30, itemHeight:18,
    data:[{name:'mexp', icon:DASH_ICON, itemStyle:{borderWidth:0, color:'#444444'}}, 'mref', 'mest'],
    formatter: name => ({mexp:'{i|m}{sup|AFM}{sub|exp}{n|(0\u2009K)}', mref:'{i|m}{sup|AFM}{sub|ref}{n|(1.5\u2009K)}', mest:'{i|m}{sup|AFM}{sub|est}{n|(0\u2009K)}'})[name],
    textStyle:{fontFamily:FF, fontSize:30, color:'#000', padding:[0,0,0,4], rich:{
      n:{fontFamily:FF, fontSize:30, color:'#000', lineHeight:42, verticalAlign:'middle'},
      i:{fontFamily:FF, fontSize:30, color:'#000', fontStyle:'italic', lineHeight:42, verticalAlign:'middle'},
      sup:{fontFamily:FF, fontSize:20, color:'#000', lineHeight:20, verticalAlign:'top'},
      sub:{fontFamily:FF, fontSize:20, color:'#000', lineHeight:20, verticalAlign:'bottom'}}}})
];
const tLegendText = {x063:'{i|x}{n|\u2002=\u20020.63}', x100:'{i|x}{n|\u2002=\u20021.00}'};
const tRich = {n:{fontFamily:FF, fontSize:30, color:'#000', lineHeight:31}, i:{fontFamily:FF, fontSize:30, color:'#000', fontStyle:'italic', lineHeight:31}};
legends.push(Object.assign({}, legendBase, {left:276, top:814, padding:[3,8,3,10], itemWidth:20, itemHeight:20, data:['x063','x100'],
  formatter: n => tLegendText[n], textStyle:{fontFamily:FF, fontSize:30, color:'#000', padding:[0,0,0,11], rich:tRich}}));
legends.push(Object.assign({}, legendBase, {left:756, top:814, padding:[3,8,3,10], itemWidth:20, itemHeight:20, data:['x063','x100'],
  formatter: n => tLegendText[n], textStyle:{fontFamily:FF, fontSize:30, color:'#000', padding:[0,0,0,11], rich:tRich}}));

const grids = [
  {left:101, top:10, width:836, height:320},
  {left:98, top:405, width:359, height:320},
  {left:578, top:408, width:359, height:317},
  {left:99, top:800, width:359, height:320},
  {left:578, top:801, width:359, height:320}
].map(g => Object.assign(g, {show:true, borderColor:'#000', borderWidth:2, backgroundColor:'transparent', containLabel:false, outerBoundsMode:'none', z:6}));

const chart = echarts.init(document.getElementById('chart'), null, {renderer:'canvas', width:944, height:1188});
chart.setOption({animation:false, backgroundColor:'#ffffff', textStyle:{fontFamily:FF}, tooltip:{show:false},
  grid:grids, xAxis:xAxes, yAxis:yAxes, series:series, legend:legends});

/* ---- annotations positioned through the axes ---- */
const G = [];
const P = (si, pt) => chart.convertToPixel({seriesIndex:si}, pt);
function txt(x, y, text, rich, fill, size, align, valign, extra) {
  return Object.assign({type:'text', z:21, x:x, y:y, style:{text:text, rich:rich, fill:fill, fontFamily:FF, fontSize:size,
    align:align, textAlign:align, verticalAlign:valign, textVerticalAlign:valign}}, extra || {});
}
function arrowDown(x, y0, yTip, col, lw) {
  G.push({type:'line', z:20, shape:{x1:x, y1:y0, x2:x, y2:yTip-12}, style:{stroke:col, lineWidth:lw}});
  G.push({type:'polygon', z:20, shape:{points:[[x-6.5,yTip-14],[x+6.5,yTip-14],[x,yTip]]}, style:{fill:col}});
}
aPeakLabels.forEach(L => {
  const c = P(siA, [L.x, aRowY[L.row]]);
  const h = 68, w = L.w;
  const col = L.kind === 'gray' ? '#bdbdbd' : '#000';
  const bg = L.kind === 'blue' ? '#d8e5f7' : '#ffffff';
  G.push({type:'rect', z:20, shape:{x:c[0]-w/2, y:c[1]-h/2, width:w, height:h}, style:{fill:bg, stroke:col, lineWidth:1.8}});
  const rich = {n:{fill:col, fontFamily:FF, fontSize:30, lineHeight:34, verticalAlign:'bottom'},
                s:{fill:col, fontFamily:FF, fontSize:18, lineHeight:34, verticalAlign:'top'}};
  G.push(txt(c[0], c[1], L.t, rich, col, 30, 'center', 'middle', {rotation:Math.PI/2}));
  if (L.tip !== undefined) {
    const t = P(siA, [L.x, L.tip]);
    arrowDown(c[0], c[1]+h/2, t[1], col, 2);
  }
});
bOffsets.forEach((off, k) => {
  const p = P(siB, [bLabelX, off]);
  G.push(txt(p[0], p[1]+1, bLabels[k], null, '#000', 30, 'right', 'bottom'));
});
dNotes.forEach(N => {
  const c = P(siD, [N.x, N.y]);
  G.push({type:'rect', z:20, shape:{x:c[0]-N.w/2, y:c[1]-N.h/2, width:N.w, height:N.h, r:3}, style:{fill:N.bg, stroke:N.bd, lineWidth:2}});
  const rich = {n:{fill:N.tx, fontFamily:FF, fontSize:31, lineHeight:36, verticalAlign:'middle'},
                i:{fill:N.tx, fontFamily:FF, fontSize:31, fontStyle:'italic', lineHeight:36, verticalAlign:'middle'},
                sub:{fill:N.tx, fontFamily:FF, fontSize:21, lineHeight:21, verticalAlign:'bottom'}};
  G.push(txt(c[0], c[1], N.t, rich, N.tx, 31, 'center', 'middle'));
  const a = P(siD, [N.ax, N.tip]);
  arrowDown(a[0], c[1]+N.h/2, a[1], N.tx, 2);
});
dAxisMarks.forEach(M => {
  const p = P(siD, [M.x, -12.5]);
  const y = p[1] + 3;
  G.push({type:'polygon', z:20, shape:{points:[[p[0]-6.5,y+12],[p[0]+6.5,y+12],[p[0],y]]}, style:{fill:M.c}});
  G.push({type:'line', z:20, shape:{x1:p[0], y1:y+11, x2:p[0], y2:y+26}, style:{stroke:M.c, lineWidth:2}});
});
[['a',10,35],['b',11,430],['c',490,430],['d',10,825],['e',490,825]].forEach(L => {
  G.push({type:'text', z:21, x:L[1], y:L[2] + 8, style:{text:L[0], fill:'#000', fontFamily:FF, fontSize:36, fontWeight:'bold',
    align:'left', textAlign:'left', verticalAlign:'bottom', textVerticalAlign:'bottom'}});
});
chart.setOption({graphic:{elements:G}});
</script>
</body>
</html>
